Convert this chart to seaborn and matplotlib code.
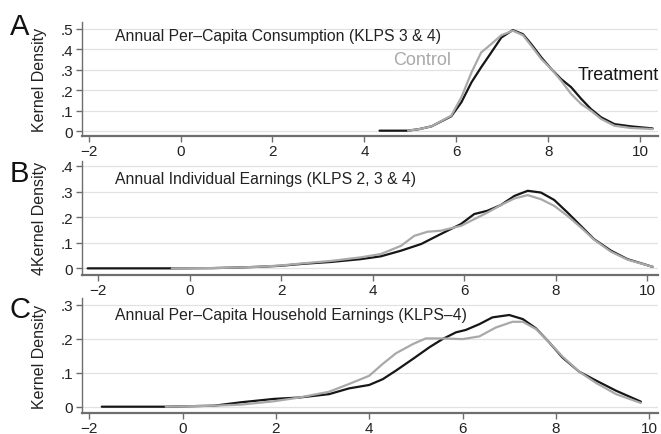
import numpy as np
import matplotlib
matplotlib.use('Agg')
import matplotlib.pyplot as plt
import seaborn as sns

# Panel A - Annual Per-Capita Consumption (KLPS 3 & 4)
a_treat_x = [4.33, 4.95, 5.2, 5.46, 5.89, 6.11, 6.33, 6.54, 6.76, 6.98, 7.23, 7.45, 7.63,
             7.85, 8.07, 8.28, 8.5, 8.72, 8.93, 9.15, 9.44, 9.8, 10.27]
a_treat_y = [0.004, 0.004, 0.012, 0.025, 0.074, 0.142, 0.239, 0.312, 0.384, 0.457, 0.493, 0.473,
             0.425, 0.36, 0.303, 0.255, 0.215, 0.158, 0.109, 0.069, 0.036, 0.025, 0.015]
a_ctrl_x = [4.95, 5.2, 5.46, 5.89, 6.11, 6.33, 6.54, 6.76, 6.98, 7.23, 7.45, 7.63, 7.85,
            8.07, 8.28, 8.5, 8.72, 8.93, 9.15, 9.44, 9.8, 10.27]
a_ctrl_y = [0.004, 0.012, 0.025, 0.077, 0.166, 0.287, 0.384, 0.425, 0.468, 0.49, 0.468, 0.417, 0.352,
            0.303, 0.247, 0.182, 0.133, 0.101, 0.061, 0.028, 0.017, 0.012]

# Panel B - Annual Individual Earnings (KLPS 2, 3 & 4)
b_treat_x = [-2.23, -0.39, 0.5, 1.0, 1.5, 1.98, 2.5, 3.09, 3.74, 4.18, 4.62, 5.06, 5.49, 5.93,
             6.22, 6.51, 6.8, 7.1, 7.39, 7.68, 7.97, 8.26, 8.55, 8.84, 9.21, 9.57, 10.12]
b_treat_y = [0.0, 0.0, 0.001, 0.003, 0.006, 0.01, 0.018, 0.025, 0.036, 0.047, 0.069, 0.095, 0.134, 0.173,
             0.212, 0.225, 0.247, 0.283, 0.303, 0.296, 0.267, 0.218, 0.166, 0.114, 0.069, 0.036, 0.006]
b_ctrl_x = [-0.39, 0.5, 1.0, 1.5, 1.98, 2.5, 3.09, 3.74, 4.18, 4.62, 4.91, 5.2, 5.49, 5.93,
            6.22, 6.51, 6.8, 7.1, 7.39, 7.68, 7.97, 8.26, 8.55, 8.84, 9.21, 9.57, 10.12]
b_ctrl_y = [0.0, 0.001, 0.003, 0.006, 0.011, 0.02, 0.029, 0.043, 0.056, 0.088, 0.127, 0.143, 0.147, 0.166,
            0.192, 0.218, 0.247, 0.273, 0.286, 0.27, 0.244, 0.205, 0.16, 0.112, 0.065, 0.034, 0.006]

# Panel C - Annual Per-Capita Household Earnings (KLPS-4)
c_treat_x = [-1.73, -0.36, 0.68, 1.25, 1.96, 2.5, 3.14, 3.57, 4.0, 4.29, 4.57, 4.93, 5.29, 5.57,
             5.86, 6.07, 6.36, 6.64, 7.0, 7.29, 7.57, 7.86, 8.14, 8.5, 8.86, 9.29, 9.82]
c_treat_y = [0.0, 0.0, 0.003, 0.013, 0.023, 0.027, 0.037, 0.054, 0.064, 0.081, 0.106, 0.14, 0.175, 0.199,
             0.219, 0.226, 0.243, 0.263, 0.27, 0.258, 0.231, 0.189, 0.145, 0.103, 0.077, 0.047, 0.015]
c_ctrl_x = [-0.36, 0.68, 1.25, 1.96, 2.5, 3.14, 3.57, 4.0, 4.29, 4.57, 4.93, 5.21, 5.57, 6.0,
            6.36, 6.71, 7.07, 7.29, 7.57, 7.86, 8.14, 8.5, 8.86, 9.29, 9.82]
c_ctrl_y = [0.0, 0.003, 0.006, 0.016, 0.027, 0.044, 0.067, 0.091, 0.126, 0.157, 0.184, 0.201, 0.201, 0.199,
            0.207, 0.233, 0.25, 0.25, 0.229, 0.189, 0.148, 0.103, 0.07, 0.037, 0.011]

titles = ['Annual Per\u2013Capita Consumption (KLPS 3 & 4)',
          'Annual Individual Earnings (KLPS 2, 3 & 4)',
          'Annual Per\u2013Capita Household Earnings (KLPS\u20134)']
ylabels = ['Kernel Density', '4Kernel Density', 'Kernel Density']
letters = ['A', 'B', 'C']
x_ticks = [-2, 0, 2, 4, 6, 8, 10]
y_ticks = [[0, 0.1, 0.2, 0.3, 0.4, 0.5], [0, 0.1, 0.2, 0.3, 0.4], [0, 0.1, 0.2, 0.3]]
y_ticklabels = [['0', '.1', '.2', '.3', '.4', '.5'], ['0', '.1', '.2', '.3', '.4'],
                ['0', '.1', '.2', '.3']]

sns.set_theme(style='white')
plt.rcParams['font.family'] = ['Liberation Sans', 'DejaVu Sans']

TREAT = '#161616'
CTRL = '#a9a9a9'
AXC = '#6e6e6e'

fig = plt.figure(figsize=(6.61, 4.35), dpi=100)
# axes boxes in figure fraction (left, bottom, width, height)
boxes = [(0.1236, 0.685, 0.872, 0.262),
         (0.1236, 0.3655, 0.872, 0.2625),
         (0.1236, 0.0483, 0.872, 0.2643)]
xlims = [(-2.15, 10.39), (-2.36, 10.24), (-2.16, 10.19)]
ylims = [(-0.022, 0.532), (-0.026, 0.42), (-0.0185, 0.32)]
title_y = [0.886, 0.842, 0.855]
letter_y = [1 - 35 / 435, 1 - 182 / 435, 1 - 318 / 435]

series = [(a_treat_x, a_treat_y, a_ctrl_x, a_ctrl_y),
          (b_treat_x, b_treat_y, b_ctrl_x, b_ctrl_y),
          (c_treat_x, c_treat_y, c_ctrl_x, c_ctrl_y)]

for i, (tx, ty, cx, cy) in enumerate(series):
    ax = fig.add_axes(boxes[i])
    sns.lineplot(x=tx, y=ty, ax=ax, color=TREAT, linewidth=1.6, estimator=None, zorder=3)
    sns.lineplot(x=cx, y=cy, ax=ax, color=CTRL, linewidth=1.6, estimator=None, zorder=4)
    for ln in ax.get_lines():
        ln.set_solid_joinstyle('round')
        ln.set_solid_capstyle('round')
    ax.set_xlim(*xlims[i])
    ax.set_ylim(*ylims[i])
    ax.set_xticks(x_ticks)
    ax.set_xticklabels(['\u22122' if t == -2 else str(t) for t in x_ticks])
    ax.set_yticks(y_ticks[i])
    ax.set_yticklabels(y_ticklabels[i])
    ax.grid(axis='y', color='#e2e2e2', linewidth=0.9, zorder=0)
    ax.grid(axis='x', visible=False)
    for side in ['top', 'right']:
        ax.spines[side].set_visible(False)
    for side in ['left', 'bottom']:
        ax.spines[side].set_color(AXC)
        ax.spines[side].set_linewidth(1.0)
    ax.spines['bottom'].set_linewidth(1.6)
    ax.tick_params(axis='both', direction='out', length=4, width=1, color=AXC,
                   labelsize=11, labelcolor='#222222', pad=2, left=True, bottom=True)
    ax.set_ylabel(ylabels[i], fontsize=11.5, color='#222222')
    ax.yaxis.set_label_coords(-0.06, 0.5)
    ax.text(0.058, title_y[i], titles[i], transform=ax.transAxes, fontsize=11.3,
            color='#222222', va='center', ha='left')
    fig.text(0.015, letter_y[i], letters[i], fontsize=21, color='#111111', va='baseline')
    if i == 0:
        ax.text(5.26, 0.352, 'Control', color=CTRL, fontsize=13, ha='center', va='center')
        ax.text(8.65, 0.279, 'Treatment', color=TREAT, fontsize=13, ha='left', va='center')

plt.savefig('out.png', dpi=100)
